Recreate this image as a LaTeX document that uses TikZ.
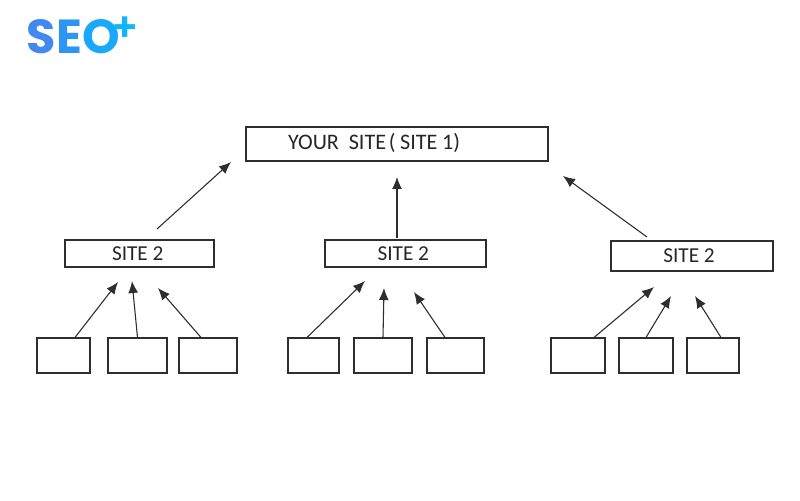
\documentclass[tikz,border=0pt]{standalone}
\usepackage{fontspec}
\setmainfont{Carlito}
\newfontfamily\logofont{Poppins}[BoldFont=* SemiBold]
\newfontfamily\logoboldfont{Poppins}[BoldFont=* Bold]
\usetikzlibrary{arrows.meta}

\definecolor{logoS}{HTML}{4288EE}
\definecolor{logoE}{HTML}{2E95F2}
\definecolor{logoO}{HTML}{18A9FB}
\definecolor{logoPlus}{HTML}{12B4FC}
\definecolor{lineGray}{HTML}{2E2E2E}

\tikzset{
	siteBox/.style = {draw = lineGray, line width = 0.62pt, inner sep = 0pt, text = black!85, font = \fontsize{12.1pt}{15pt}\selectfont},
	leafBox/.style = {siteBox, minimum height = 0.7cm},
	upArrow/.style = {-{Latex[length = 0.24cm, width = 0.2cm]}, draw = lineGray, line width = 0.62pt}
}

\begin{document}
\begin{tikzpicture}[x = 0.02cm, y = -0.02cm]
	\useasboundingbox (0, 0) rectangle (800, 500);

	% logo
	\node [inner sep = 0pt, anchor = base west, font = \logoboldfont\bfseries\fontsize{27.2pt}{30pt}\selectfont] (logo) at (26.5, 53) {\textcolor{logoS}{S}\textcolor{logoE}{E}\textcolor{logoO}{O}\kern -4.5pt\textcolor{logoPlus}{\raisebox{6.6pt}{\logofont\bfseries\fontsize{23pt}{24pt}\selectfont +}}};

	% boxes
	\node [siteBox, minimum width = 6.04cm, minimum height = 0.68cm, text width = 4.36cm, align = left, font = \fontsize{12.6pt}{16pt}\selectfont] (siteOne) at (397, 144) {\raisebox{3pt}{\spaceskip = 2.6pt YOUR\hspace{3pt} SITE\hspace{-1pt} ( SITE 1)}};
	\node [siteBox, minimum width = 2.98cm, minimum height = 0.54cm] (siteLeft) at (139.5, 253.5) {SITE 2\kern 2pt};
	\node [siteBox, minimum width = 3.22cm, minimum height = 0.54cm] (siteMid) at (405.5, 253.5) {SITE 2\kern 2.5pt};
	\node [siteBox, minimum width = 3.24cm, minimum height = 0.6cm] (siteRight) at (692, 256) {SITE 2\kern 3.4pt};

	\node [leafBox, minimum width = 1.06cm] (leafA) at (63.5, 355.5) {};
	\node [leafBox, minimum width = 1.18cm] (leafB) at (137.5, 355.5) {};
	\node [leafBox, minimum width = 1.16cm] (leafC) at (208, 355.5) {};
	\node [leafBox, minimum width = 1.02cm] (leafD) at (313.5, 355.5) {};
	\node [leafBox, minimum width = 1.16cm] (leafE) at (383, 355.5) {};
	\node [leafBox, minimum width = 1.14cm] (leafF) at (455.5, 355.5) {};
	\node [leafBox, minimum width = 1.08cm] (leafG) at (578, 355.5) {};
	\node [leafBox, minimum width = 1.08cm] (leafH) at (646, 355.5) {};
	\node [leafBox, minimum width = 1.04cm] (leafI) at (713, 355.5) {};

	% arrow ends
	\coordinate (tailLeft) at (157, 229);
	\coordinate (tailMid) at (397, 238);
	\coordinate (tailRight) at (647, 237);
	\coordinate (tipLeft) at (231, 162);
	\coordinate (tipMid) at (397, 177);
	\coordinate (tipRight) at (563, 176);
	\coordinate (tipA) at (118, 282);
	\coordinate (tipB) at (132, 281);
	\coordinate (tipC) at (158, 288);
	\coordinate (tipD) at (365, 281);
	\coordinate (tipE) at (384, 288);
	\coordinate (tipF) at (414, 292);
	\coordinate (tipG) at (654, 287);
	\coordinate (tipH) at (671, 296);
	\coordinate (tipI) at (695, 296);

	\draw [upArrow] (tailLeft) -- (tipLeft);
	\draw [upArrow] (tailMid) -- (tipMid);
	\draw [upArrow] (tailRight) -- (tipRight);

	\draw [upArrow] ([xshift = 0.23cm]leafA.north) -- (tipA);
	\draw [upArrow] (leafB.north) -- (tipB);
	\draw [upArrow] ([xshift = -0.14cm]leafC.north) -- (tipC);
	\draw [upArrow] ([xshift = -0.13cm]leafD.north) -- (tipD);
	\draw [upArrow] (leafE.north) -- (tipE);
	\draw [upArrow] ([xshift = -0.21cm]leafF.north) -- (tipF);
	\draw [upArrow] ([xshift = 0.32cm]leafG.north) -- (tipG);
	\draw [upArrow] (leafH.north) -- (tipH);
	\draw [upArrow] ([xshift = 0.16cm]leafI.north) -- (tipI);
\end{tikzpicture}
\end{document}
